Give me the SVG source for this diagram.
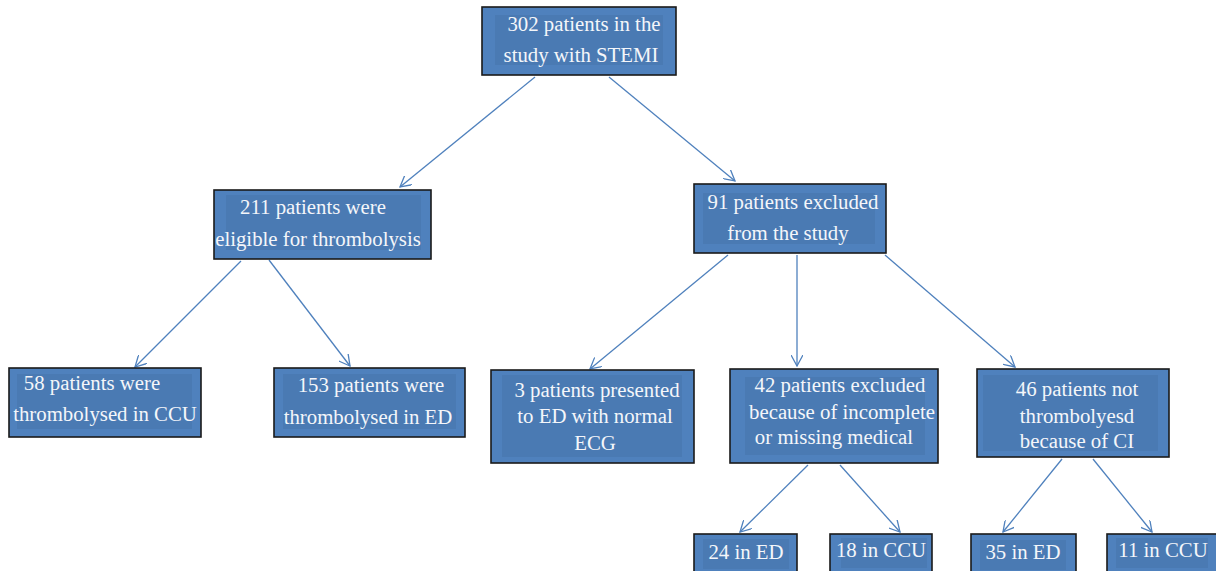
<svg xmlns="http://www.w3.org/2000/svg" width="1216" height="571" viewBox="0 0 1216 571">
<defs>
<style>
.box{fill:#4f81bd;stroke:#1a1a1a;stroke-width:1.6}
.inner{fill:#4a7ab3}
.t{font-family:"Liberation Serif","DejaVu Serif",serif;font-size:20.8px;fill:#f4f6fa;text-anchor:middle}
.c{stroke:#4f81bd;stroke-width:1.3;fill:none;marker-end:url(#ah)}
</style>
<marker id="ah" viewBox="0 0 12 12" refX="11" refY="6" markerWidth="12" markerHeight="12" markerUnits="userSpaceOnUse" orient="auto">
<path d="M0,0 L11,6 L0,12" fill="none" stroke="#4f81bd" stroke-width="1.3"/>
</marker>
</defs>
<rect width="1216" height="571" fill="#ffffff"/>
<g id="connectors">
<line class="c" x1="535" y1="77" x2="400" y2="187"/>
<line class="c" x1="609" y1="77" x2="735" y2="181"/>
<line class="c" x1="241" y1="261" x2="135" y2="367"/>
<line class="c" x1="269" y1="260" x2="350" y2="366"/>
<line class="c" x1="728" y1="255" x2="590" y2="369"/>
<line class="c" x1="797" y1="255" x2="797" y2="366"/>
<line class="c" x1="885" y1="255" x2="1015" y2="367"/>
<line class="c" x1="808" y1="465" x2="740" y2="532"/>
<line class="c" x1="840" y1="465" x2="900" y2="532"/>
<line class="c" x1="1062" y1="459" x2="1003" y2="532"/>
<line class="c" x1="1093" y1="459" x2="1152" y2="532"/>
</g>
<g id="n302">
<rect class="box" x="482" y="7" width="194" height="68"/>
<rect class="inner" x="495" y="15" width="168" height="50"/>
<text class="t" x="584" y="31">302 patients in the</text>
<text class="t" x="581" y="62">study with STEMI</text>
</g>
<g id="n211">
<rect class="box" x="214" y="190" width="217" height="69"/>
<rect class="inner" x="226" y="195" width="195" height="55"/>
<text class="t" x="313" y="214">211 patients were</text>
<text class="t" x="318" y="246">eligible for thrombolysis</text>
</g>
<g id="n91">
<rect class="box" x="694" y="184" width="192" height="69"/>
<rect class="inner" x="703" y="193" width="172" height="51"/>
<text class="t" x="793" y="209">91 patients excluded</text>
<text class="t" x="788" y="240">from the study</text>
</g>
<g id="n58">
<rect class="box" x="9" y="368" width="192" height="69"/>
<rect class="inner" x="17" y="374" width="175" height="55"/>
<text class="t" x="92" y="390">58 patients were</text>
<text class="t" x="105" y="421">thrombolysed in CCU</text>
</g>
<g id="n153">
<rect class="box" x="274" y="368" width="191" height="69"/>
<rect class="inner" x="283" y="374" width="173" height="55"/>
<text class="t" x="371" y="392">153 patients were</text>
<text class="t" x="368" y="424">thrombolysed in ED</text>
</g>
<g id="n3">
<rect class="box" x="491" y="370" width="203" height="93"/>
<rect class="inner" x="502" y="375" width="180" height="82"/>
<text class="t" x="597" y="397">3 patients presented</text>
<text class="t" x="595" y="423">to ED with normal</text>
<text class="t" x="595" y="450">ECG</text>
</g>
<g id="n42">
<rect class="box" x="730" y="369" width="208" height="94"/>
<rect class="inner" x="745" y="377" width="180" height="78"/>
<text class="t" x="840" y="392">42 patients excluded</text>
<text class="t" x="842" y="419">because of incomplete</text>
<text class="t" x="834" y="444">or missing medical</text>
</g>
<g id="n46">
<rect class="box" x="977" y="369" width="192" height="88"/>
<rect class="inner" x="983" y="375" width="175" height="76"/>
<text class="t" x="1077" y="396">46 patients not</text>
<text class="t" x="1077" y="423">thrombolyesd</text>
<text class="t" x="1077" y="448">because of CI</text>
</g>
<g id="n24">
<rect class="box" x="694" y="534" width="103" height="40"/>
<rect class="inner" x="703" y="539" width="86" height="30"/>
<text class="t" x="746" y="559">24 in ED</text>
</g>
<g id="n18">
<rect class="box" x="830" y="534" width="102" height="40"/>
<rect class="inner" x="841" y="538" width="86" height="30"/>
<text class="t" x="881" y="557">18 in CCU</text>
</g>
<g id="n35">
<rect class="box" x="971" y="534" width="105" height="40"/>
<rect class="inner" x="980" y="540" width="86" height="30"/>
<text class="t" x="1023" y="559">35 in ED</text>
</g>
<g id="n11">
<rect class="box" x="1107" y="534" width="112" height="40"/>
<rect class="inner" x="1116" y="538" width="92" height="30"/>
<text class="t" x="1163" y="557">11 in CCU</text>
</g>
</svg>
